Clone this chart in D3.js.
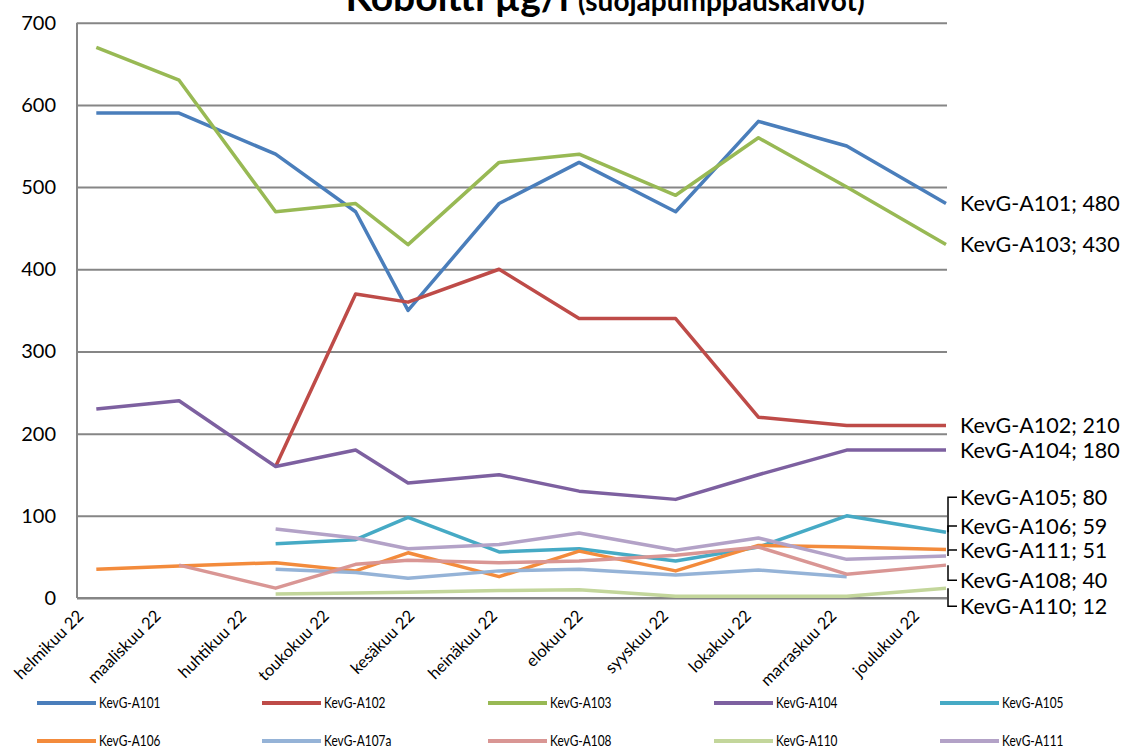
<!DOCTYPE html>
<html>
<head>
<meta charset="utf-8">
<script src="https://cdn.jsdelivr.net/npm/d3@7"></script>
<style>
  html, body { margin: 0; padding: 0; background: #fff; }
  svg { display: block; font-family: Lato, "Open Sans", sans-serif; }
</style>
</head>
<body>
<svg id="chart" width="1130" height="749"></svg>
<script>
// Sampling dates and month labels
const sampleDates = ["2022-02-08", "2022-03-10", "2022-04-14", "2022-05-13", "2022-06-01",
  "2022-07-04", "2022-08-02", "2022-09-06", "2022-10-06", "2022-11-07", "2022-12-13"];
const monthLabels = ["helmikuu 22", "maaliskuu 22", "huhtikuu 22", "toukokuu 22", "kesäkuu 22",
  "heinäkuu 22", "elokuu 22", "syyskuu 22", "lokakuu 22", "marraskuu 22", "joulukuu 22"];
const yTicks = [0, 100, 200, 300, 400, 500, 600, 700];

// Cobalt concentrations (µg/l) per well, null = not sampled
const wellNames = ["KevG-A101", "KevG-A102", "KevG-A103", "KevG-A104", "KevG-A105",
  "KevG-A106", "KevG-A107a", "KevG-A108", "KevG-A110", "KevG-A111"];
const kevA101 = [590, 590, 540, 470, 350, 480, 530, 470, 580, 550, 480];
const kevA102 = [null, null, 160, 370, 360, 400, 340, 340, 220, 210, 210];
const kevA103 = [670, 630, 470, 480, 430, 530, 540, 490, 560, 500, 430];
const kevA104 = [230, 240, 160, 180, 140, 150, 130, 120, 150, 180, 180];
const kevA105 = [null, null, 66, 71, 98, 56, 60, 45, 62, 100, 80];
const kevA106 = [35, 39, 43, 33, 55, 26, 57, 33, 64, 62, 59];
const kevA107a = [null, null, 35, 31, 24, 33, 35, 28, 34, 26, null];
const kevA108 = [null, 40, 12, 41, 46, 43, 45, 52, 62, 29, 40];
const kevA110 = [null, null, 5, 6, 7, 9, 10, 2, 2, 2, 12];
const kevA111 = [null, null, 84, 73, 60, 65, 79, 58, 73, 47, 51];

const seriesValues = [kevA101, kevA102, kevA103, kevA104, kevA105,
  kevA106, kevA107a, kevA108, kevA110, kevA111];
const colors = ["#4a7ebb", "#be4b48", "#98b954", "#7d60a0", "#46aac5",
  "#f38b3c", "#95b3d7", "#d99694", "#c3d69b", "#b3a2c7"];

// vertical nudges (px) for end labels that would otherwise overlap
const endLabelShift = { "KevG-A105": -35, "KevG-A106": -23.5, "KevG-A111": -6,
  "KevG-A108": 15, "KevG-A110": 18 };

const parse = d3.timeParse("%Y-%m-%d");
const dates = sampleDates.map(parse);

const svg = d3.select("#chart");
const plotLeft = 77, plotRight = 946, plotTop = 22.7, plotBottom = 598;

const x = d3.scaleTime()
  .domain([new Date(2022, 1, 1), dates[dates.length - 1]])
  .range([plotLeft, plotRight]);
const y = d3.scaleLinear().domain([0, 700]).range([plotBottom, plotTop]);

// Title (runs past the top edge of the page)
const title = svg.append("text")
  .attr("x", 605).attr("y", 11)
  .attr("text-anchor", "middle")
  .attr("font-weight", "bold")
  .attr("fill", "#000");
title.append("tspan").attr("font-size", 39).text("Koboltti µg/l ");
title.append("tspan").attr("font-size", 28).text("(suojapumppauskaivot)");

// Gridlines
const yAxis = d3.axisLeft(y).tickValues(yTicks).tickSize(-(plotRight + 1 - plotLeft)).tickPadding(21);
const gy = svg.append("g").attr("transform", `translate(${plotLeft},0)`).call(yAxis);
gy.select(".domain").remove();
gy.selectAll(".tick line").attr("stroke", "#868686").attr("stroke-width", 2);
gy.selectAll(".tick text").attr("font-size", 20).attr("fill", "#000")
  .attr("font-family", "Lato, sans-serif");

// Axis lines
svg.append("line").attr("x1", plotLeft).attr("x2", plotLeft).attr("y1", plotTop).attr("y2", plotBottom)
  .attr("stroke", "#868686").attr("stroke-width", 2);
svg.append("line").attr("x1", plotLeft).attr("x2", plotRight + 1).attr("y1", plotBottom).attr("y2", plotBottom)
  .attr("stroke", "#868686").attr("stroke-width", 2);

// Month labels on the time axis
const monthStarts = d3.timeMonths(new Date(2022, 1, 1), new Date(2022, 11, 2));
const xAxis = d3.axisBottom(x).tickValues(monthStarts)
  .tickFormat((d, i) => monthLabels[i]).tickSize(0).tickPadding(0);
const gx = svg.append("g").attr("transform", `translate(0,${plotBottom})`).call(xAxis);
gx.select(".domain").remove();
gx.selectAll(".tick text")
  .attr("font-size", 16.5).attr("fill", "#000").attr("font-family", "Lato, sans-serif")
  .attr("text-anchor", "end")
  .attr("dy", null).attr("y", null)
  .attr("transform", "translate(7,19) rotate(-45)");

// Series lines
const line = d3.line()
  .defined(d => d.v !== null)
  .x(d => x(d.date))
  .y(d => y(d.v));

wellNames.forEach((name, i) => {
  const pts = seriesValues[i].map((v, j) => ({ date: dates[j], v }));
  svg.append("path")
    .datum(pts)
    .attr("fill", "none")
    .attr("stroke", colors[i])
    .attr("stroke-width", 3.5)
    .attr("stroke-linejoin", "round")
    .attr("d", line);
});

// End labels with leader lines
const labelX = 960;
wellNames.forEach((name, i) => {
  const vals = seriesValues[i];
  const lastIdx = vals.length - 1;
  const v = vals[lastIdx];
  if (v === null) return;
  const py = y(v);
  const shift = endLabelShift[name] || 0;
  const ly = py + shift;
  if (shift !== 0) {
    svg.append("path")
      .attr("d", `M${x(dates[lastIdx]) + 2},${py}V${ly}H${labelX - 3}`)
      .attr("fill", "none").attr("stroke", "#000").attr("stroke-width", 1.5);
  }
  svg.append("text")
    .attr("x", labelX).attr("y", ly).attr("dy", "0.35em")
    .attr("font-size", 21.5).attr("fill", "#000")
    .text(`${name}; ${v}`);
});

// Legend: two rows of five, condensed type
const legendCols = [37, 262, 488, 714, 940];
const legendRows = [703, 741];
wellNames.forEach((name, i) => {
  const lx = legendCols[i % 5], ly = legendRows[Math.floor(i / 5)];
  svg.append("line").attr("x1", lx).attr("x2", lx + 59).attr("y1", ly).attr("y2", ly)
    .attr("stroke", colors[i]).attr("stroke-width", 4);
  svg.append("text")
    .attr("transform", `translate(${lx + 62},${ly}) scale(0.82,1)`)
    .attr("dy", "0.35em")
    .attr("font-size", 14.5).attr("fill", "#000")
    .text(name);
});
</script>
</body>
</html>
